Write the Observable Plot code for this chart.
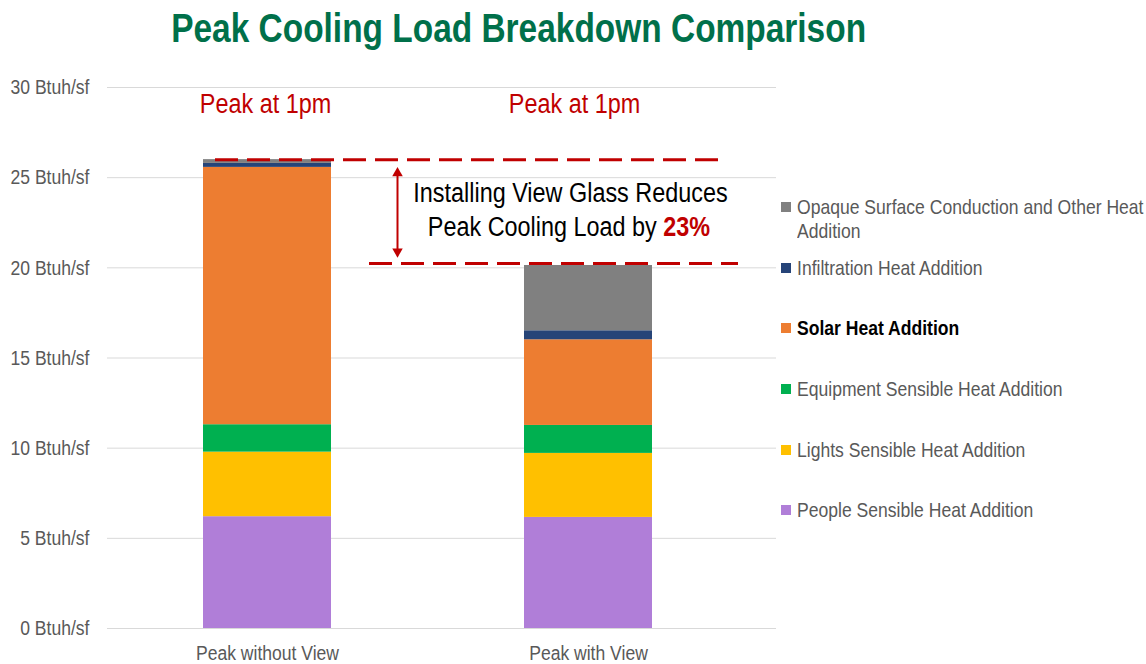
<!DOCTYPE html>
<html>
<head>
<meta charset="utf-8">
<script src="https://cdn.jsdelivr.net/npm/d3@7"></script>
<script src="https://cdn.jsdelivr.net/npm/@observablehq/plot@0.6"></script>
<style>
  html, body { margin: 0; padding: 0; background: #fff; }
  #wrap { position: relative; width: 1146px; height: 664px; overflow: hidden; font-family: "Liberation Sans", Arial, sans-serif; }
  #titlebox { width: 1038px; height: 60px; text-align: center; }
  #title { display: inline-block; line-height: 56px; font-size: 40px; font-weight: bold; color: #00704a; transform: scaleX(0.836); transform-origin: center; white-space: nowrap; }
  #legend { position: absolute; left: 0; top: 0; }
  .li { position: absolute; left: 781px; font-size: 21px; line-height: 24px; color: #595959; white-space: nowrap; }
  .sw { position: absolute; left: 0; top: 7px; width: 10px; height: 10px; }
  .lt { position: absolute; left: 16px; top: 0; transform: scaleX(0.836); transform-origin: left center; }
  svg text { font-family: "Liberation Sans", Arial, sans-serif; }
</style>
</head>
<body>
<div id="wrap">
  <div id="titlebox"><span id="title">Peak Cooling Load Breakdown Comparison</span></div>
  <div id="chart"></div>
  <div id="legend"></div>
</div>
<script>
const scenarios = ["Peak without View", "Peak with View"];
const components = [
  "People Sensible Heat Addition",
  "Lights Sensible Heat Addition",
  "Equipment Sensible Heat Addition",
  "Solar Heat Addition",
  "Infiltration Heat Addition",
  "Opaque Surface Conduction and Other Heat Addition"
];
const withoutView = [6.2, 3.58, 1.52, 14.27, 0.22, 0.21];
const withView = [6.16, 3.55, 1.55, 4.75, 0.5, 3.62];
const colors = ["#b07ed8", "#ffc000", "#00b050", "#ed7d31", "#264478", "#808080"];
const yTicks = [0, 5, 10, 15, 20, 25, 30];
const peakLabels = ["Peak at 1pm", "Peak at 1pm"];
const annotationLine1 = "Installing View Glass Reduces";
const annotationLine2 = "Peak Cooling Load by";
const reductionLabel = "23%";

const rows = [];
components.forEach((c, i) => {
  rows.push({scenario: scenarios[0], component: c, value: withoutView[i]});
  rows.push({scenario: scenarios[1], component: c, value: withView[i]});
});
const total0 = d3.sum(withoutView);
const total1 = d3.sum(withView);
const mid = (total0 + total1) / 2;
const red = "#c00000";
const grey = "#595959";
const fmt = d => d + " Btuh/sf";

const chart = Plot.plot({
  width: 1146,
  height: 604,
  marginLeft: 107,
  marginRight: 370,
  marginTop: 27,
  marginBottom: 36,
  style: {fontSize: "21px", color: grey, background: "transparent", fontFamily: "Liberation Sans, Arial, sans-serif"},
  x: {domain: scenarios, range: [106.5, 748.5], paddingInner: 0.6, paddingOuter: 0.3, label: null},
  y: {domain: [0, 30], label: null},
  color: {domain: components, range: colors},
  marks: [
    Plot.gridY(yTicks, {stroke: "#d9d9d9", strokeOpacity: 1, strokeWidth: 1}),
    Plot.axisY(yTicks, {tickSize: 0, tickPadding: 18, tickFormat: fmt, fill: grey, fontSize: 21, label: null}),
    Plot.axisX({tickSize: 0, tickPadding: 17, fill: grey, fontSize: 21, label: null}),
    Plot.barY(rows, {x: "scenario", y: "value", fill: "component", order: components}),
    Plot.ruleY([total0], {stroke: red, strokeWidth: 3, strokeDasharray: "23,9", insetLeft: 108, insetRight: 53}),
    Plot.ruleY([total1], {stroke: red, strokeWidth: 3, strokeDasharray: "23,9", insetLeft: 262, insetRight: 38, dy: -2}),
    Plot.link([{x: scenarios[1], y1: total0 - 0.76, y2: total1 + 0.78}], {x1: "x", x2: "x", y1: "y1", y2: "y2", stroke: red, strokeWidth: 2, dx: -191}),
    Plot.dot([{x: scenarios[1], y: total0 - 0.43}], {x: "x", y: "y", dx: -191, dy: 5.8, symbol: "triangle", r: 3.9, fill: red, stroke: "none"}),
    Plot.dot([{x: scenarios[1], y: total1 + 0.45}], {x: "x", y: "y", dx: -191, dy: -5.8, symbol: "triangle", r: 3.9, fill: red, stroke: "none", rotate: 180}),
    Plot.text([{x: scenarios[0], t: peakLabels[0]}], {x: "x", y: () => 30, text: "t", dy: 17, dx: -2, fill: red, fontSize: 28}),
    Plot.text([{x: scenarios[1], t: peakLabels[1]}], {x: "x", y: () => 30, text: "t", dy: 17, dx: -14, fill: red, fontSize: 28}),
    Plot.text([{x: scenarios[1], y: mid}], {x: "x", y: "y", text: () => annotationLine1, dx: -18, dy: -20, fill: "#000", fontSize: 28}),
    Plot.text([{x: scenarios[1], y: mid}], {x: "x", y: "y", text: () => annotationLine2 + " " + reductionLabel, dx: -19.5, dy: 14, fill: "#000", fontSize: 28, className: "line2"})
  ]
});
document.getElementById("chart").appendChild(chart);

// style the reduction figure inside the second annotation line
chart.querySelectorAll(".line2 text").forEach(t => {
  t.textContent = "";
  const a = document.createElementNS("http://www.w3.org/2000/svg", "tspan");
  a.textContent = annotationLine2 + " ";
  const b = document.createElementNS("http://www.w3.org/2000/svg", "tspan");
  b.textContent = reductionLabel;
  b.setAttribute("fill", red);
  b.setAttribute("font-weight", "bold");
  t.appendChild(a); t.appendChild(b);
});

// condense svg text horizontally to mimic a narrow face
chart.querySelectorAll("text").forEach(t => {
  const tr = t.getAttribute("transform");
  if (tr && tr.includes("translate") && !t.hasAttribute("x")) {
    t.setAttribute("transform", tr + " scale(0.836,1)");
  } else {
    const len = t.getComputedTextLength();
    if (len > 0) {
      t.setAttribute("textLength", (len * 0.836).toFixed(2));
      t.setAttribute("lengthAdjust", "spacingAndGlyphs");
    }
  }
});

// legend (top to bottom = reverse stack order)
const legendItems = [
  {i: 5, top: 195, lines: ["Opaque Surface Conduction and Other Heat", "Addition"]},
  {i: 4, top: 256, lines: ["Infiltration Heat Addition"]},
  {i: 3, top: 316, lines: ["Solar Heat Addition"], bold: true},
  {i: 2, top: 377, lines: ["Equipment Sensible Heat Addition"]},
  {i: 1, top: 438, lines: ["Lights Sensible Heat Addition"]},
  {i: 0, top: 498, lines: ["People Sensible Heat Addition"]}
];
const legend = document.getElementById("legend");
legendItems.forEach(it => {
  const d = document.createElement("div");
  d.className = "li";
  d.style.top = it.top + "px";
  const sw = document.createElement("div");
  sw.className = "sw";
  sw.style.background = colors[it.i];
  const t = document.createElement("div");
  t.className = "lt";
  t.innerHTML = it.lines.join("<br>");
  if (it.bold) { t.style.fontWeight = "bold"; t.style.color = "#000"; }
  d.appendChild(sw); d.appendChild(t);
  legend.appendChild(d);
});
</script>
</body>
</html>
